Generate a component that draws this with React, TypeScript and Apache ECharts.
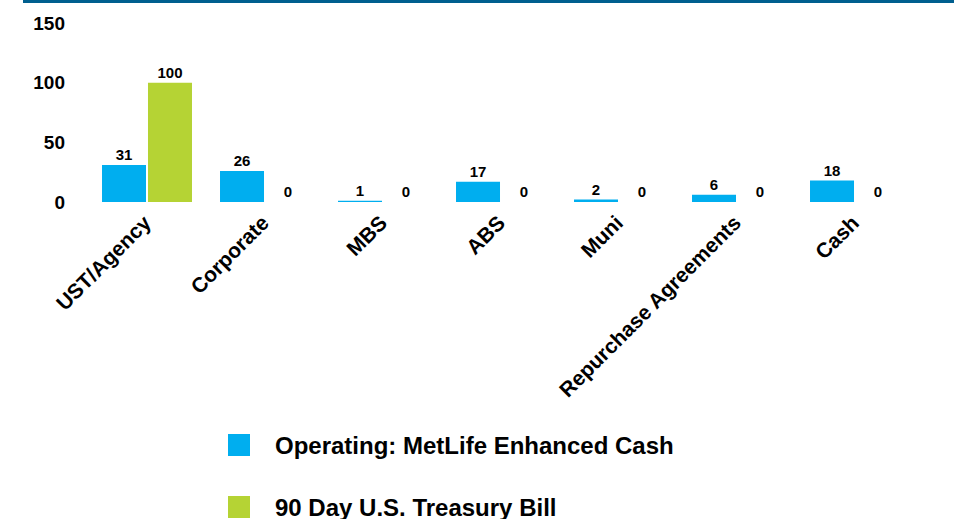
import React, { useEffect, useRef } from "react";
import * as echarts from "echarts";

const categories = ["UST/Agency", "Corporate", "MBS", "ABS", "Muni", "Repurchase Agreements", "Cash"];
const enhancedCash = [31, 26, 1, 17, 2, 6, 18];
const treasuryBill = [100, 0, 0, 0, 0, 0, 0];
const seriesNames = ["Operating: MetLife Enhanced Cash", "90 Day U.S. Treasury Bill"];
const yTicks = [0, 50, 100, 150];

const FONT = "'Liberation Sans', Arial, sans-serif";

export default function App() {
  const ref = useRef<HTMLDivElement>(null);
  useEffect(() => {
    if (!ref.current) return;
    const chart = echarts.init(ref.current, undefined, { renderer: "svg" });
    const labelStyle = {
      show: true,
      position: "top" as const,
      distance: 3,
      fontFamily: FONT,
      fontWeight: "bold" as const,
      fontSize: 15,
      color: "#000",
    };
    chart.setOption({
      animation: false,
      textStyle: { fontFamily: FONT },
      graphic: [
        {
          type: "rect",
          shape: { x: 23, y: 0, width: 931, height: 3 },
          style: { fill: "#005f8f" },
        },
      ],
      grid: { left: 88, right: 58, top: 23, bottom: 317 },
      legend: {
        orient: "vertical",
        left: 228,
        top: 433,
        height: 100,
        padding: 0,
        itemWidth: 22,
        itemHeight: 22,
        itemGap: 38,
        icon: "rect",
        data: seriesNames,
        textStyle: {
          fontFamily: FONT,
          fontWeight: "bold",
          fontSize: 24,
          color: "#000",
          padding: [0, 0, 0, 20],
        },
      },
      xAxis: {
        type: "category",
        data: categories,
        axisLine: { show: false },
        axisTick: { show: false },
        axisLabel: {
          rotate: 45,
          interval: 0,
          margin: 17,
          fontFamily: FONT,
          fontWeight: "bold",
          fontSize: 21,
          color: "#000",
        },
      },
      yAxis: {
        type: "value",
        min: yTicks[0],
        max: yTicks[yTicks.length - 1],
        interval: 50,
        splitLine: { show: false },
        axisLine: { show: false },
        axisTick: { show: false },
        axisLabel: {
          margin: 23,
          fontFamily: FONT,
          fontWeight: "bold",
          fontSize: 19,
          color: "#000",
        },
      },
      series: [
        {
          name: seriesNames[0],
          type: "bar",
          data: enhancedCash,
          barWidth: 44,
          barGap: "4.5%",
          itemStyle: { color: "#00aeef" },
          label: labelStyle,
        },
        {
          name: seriesNames[1],
          type: "bar",
          data: treasuryBill,
          barWidth: 44,
          itemStyle: { color: "#b5d334" },
          label: labelStyle,
        },
      ],
    });
    return () => chart.dispose();
  }, []);
  return (
    <div
      ref={ref}
      style={{ position: "absolute", left: 0, top: 0, width: 972, height: 519 }}
    />
  );
}
